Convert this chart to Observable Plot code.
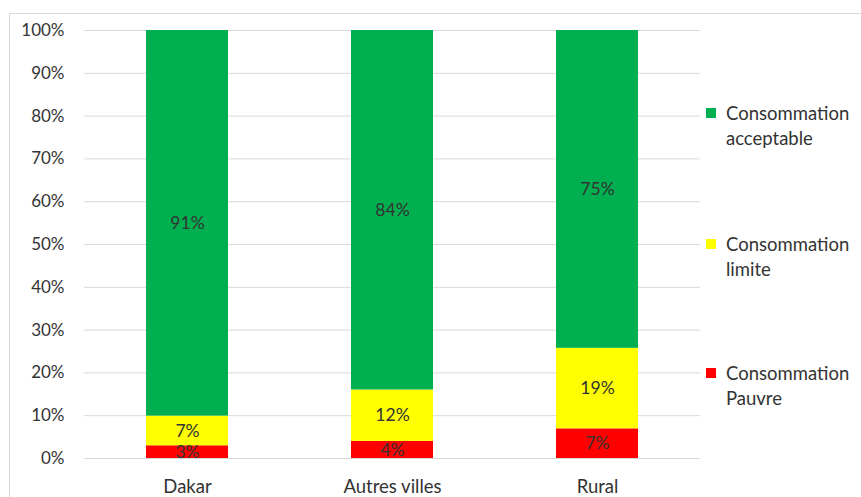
<!DOCTYPE html>
<html><head><meta charset="utf-8">
<script src="https://cdn.jsdelivr.net/npm/d3@7"></script>
<script src="https://cdn.jsdelivr.net/npm/@observablehq/plot@0.6"></script>
<style>
html,body{margin:0;padding:0;background:#fff;}
#wrap{position:relative;width:861px;height:497px;overflow:hidden;font-family:Lato,"Open Sans",sans-serif;}
#frame{position:absolute;left:9px;top:13px;width:900px;height:600px;border:1px solid #d9d9d9;box-sizing:border-box;}
#legend{position:absolute;left:706px;top:0;color:#333;font-size:18.5px;line-height:25px;}
.item{position:absolute;left:0;width:160px;}
.sw{position:absolute;left:0;top:7px;width:10px;height:10px;}
.lt{position:absolute;left:20px;top:0;white-space:nowrap;}
</style></head>
<body><div id="wrap"><div id="frame"></div><div id="chart"></div><div id="legend"></div></div>
<script>
const categories = ["Dakar", "Autres villes", "Rural"];
const series = ["Consommation Pauvre", "Consommation limite", "Consommation acceptable"];
const pauvre = [3, 4, 7];
const limite = [7, 12, 19];
const acceptable = [91, 84, 75];
const colors = ["#ff0000", "#ffff00", "#00b050"];
const yTicks = [0, 0.1, 0.2, 0.3, 0.4, 0.5, 0.6, 0.7, 0.8, 0.9, 1];

const values = [pauvre, limite, acceptable];
const data = [];
categories.forEach((c, i) => series.forEach((s, j) => data.push({cat: c, type: s, value: values[j][i]})));

const stackOpts = {x: "cat", y: "value", z: "type", offset: "normalize", order: series};

const chart = Plot.plot({
  width: 861, height: 497,
  marginLeft: 84, marginRight: 161, marginTop: 30, marginBottom: 39,
  style: {fontFamily: "Lato, 'Open Sans', sans-serif", fontSize: "17px", color: "#333", background: "transparent"},
  x: {domain: categories, paddingInner: 0.6, paddingOuter: 0.3, label: null, tickSize: 0, tickPadding: 21},
  y: {domain: [0, 1], ticks: yTicks, tickFormat: d3.format(".0%"), label: null, tickSize: 0, tickPadding: 20},
  color: {domain: series, range: colors},
  marks: [
    Plot.gridY(yTicks, {stroke: "#d9d9d9", strokeOpacity: 1, strokeWidth: 1}),
    Plot.barY(data, Plot.stackY({...stackOpts, fill: "type"})),
    Plot.text(data, Plot.stackY({...stackOpts, text: d => d.value + "%", fill: "#333", fontSize: 17.5})),
    Plot.axisX({tickSize: 0, tickPadding: 21, fontSize: 18.5, label: null})
  ]
});
document.getElementById("chart").appendChild(chart);

const legendItems = [
  {s: series[2], c: colors[2], lines: ["Consommation", "acceptable"], top: 101},
  {s: series[1], c: colors[1], lines: ["Consommation", "limite"], top: 232},
  {s: series[0], c: colors[0], lines: ["Consommation", "Pauvre"], top: 361}
];
const lg = document.getElementById("legend");
legendItems.forEach(it => {
  const d = document.createElement("div");
  d.className = "item";
  d.style.top = it.top + "px";
  d.innerHTML = `<div class="sw" style="background:${it.c}"></div><div class="lt">${it.lines.join("<br>")}</div>`;
  lg.appendChild(d);
});
</script></body></html>
